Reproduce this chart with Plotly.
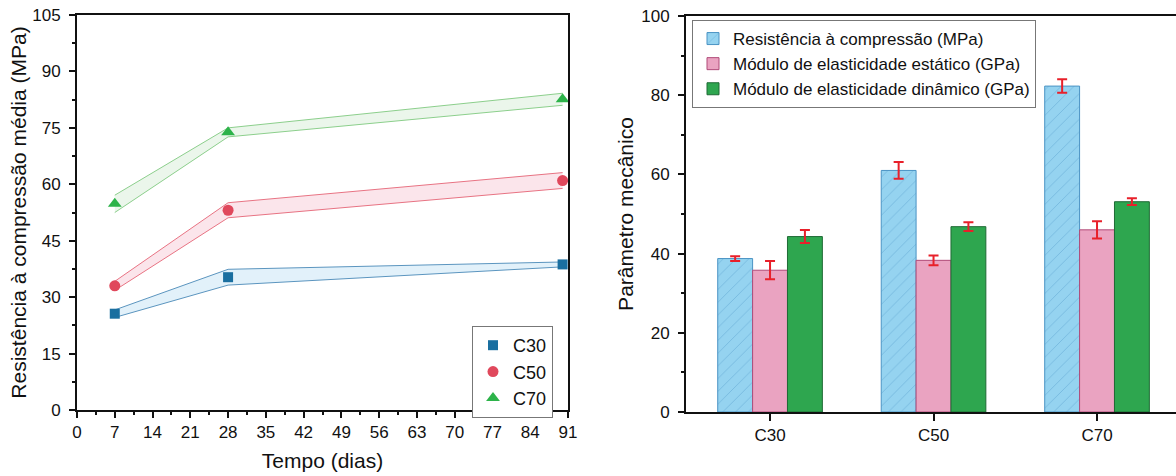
import plotly.graph_objects as go

# ---------------- Left chart data ----------------
days = [7, 28, 90]
c30_mean = [25.6, 35.3, 38.7]
c30_sd = [1.0, 2.1, 0.65]
c50_mean = [33.0, 53.1, 61.0]
c50_sd = [1.2, 2.0, 2.1]
c70_mean = [54.8, 73.8, 82.6]
c70_sd = [2.3, 1.2, 1.6]
x_ticks = [0, 7, 14, 21, 28, 35, 42, 49, 56, 63, 70, 77, 84, 91]
y_ticks_left = [0, 15, 30, 45, 60, 75, 90, 105]

# ---------------- Right chart data ----------------
classes = ["C30", "C50", "C70"]
compressao = [38.75, 61.0, 82.3]
compressao_err = [0.6, 2.1, 1.7]
mod_estatico = [35.8, 38.3, 46.0]
mod_estatico_err = [2.3, 1.25, 2.2]
mod_dinamico = [44.3, 46.8, 53.1]
mod_dinamico_err = [1.65, 1.1, 0.85]
y_ticks_right = [0, 20, 40, 60, 80, 100]

FONT = "Arial, 'Liberation Sans', sans-serif"
W, H = 1176, 476

fig = go.Figure()

series = [
    ("C30", c30_mean, c30_sd, "#1a6fa0", "#5b95bf", "rgba(190,225,245,0.45)", "square", 10),
    ("C50", c50_mean, c50_sd, "#e0485c", "#e87383", "rgba(245,190,205,0.40)", "circle", 11),
    ("C70", c70_mean, c70_sd, "#2db34a", "#8ccf8c", "rgba(205,232,205,0.40)", "triangle-up", 12),
]

# bands
for name, m, sd, mc, lc, fc, sym, sz in series:
    lower = [a - b for a, b in zip(m, sd)]
    upper = [a + b for a, b in zip(m, sd)]
    fig.add_trace(go.Scatter(x=days, y=lower, mode="lines", line=dict(color=lc, width=1),
                             showlegend=False, hoverinfo="skip", xaxis="x", yaxis="y"))
    fig.add_trace(go.Scatter(x=days, y=upper, mode="lines", line=dict(color=lc, width=1),
                             fill="tonexty", fillcolor=fc,
                             showlegend=False, hoverinfo="skip", xaxis="x", yaxis="y"))
# markers
for name, m, sd, mc, lc, fc, sym, sz in series:
    fig.add_trace(go.Scatter(x=days, y=m, mode="markers", name=name,
                             marker=dict(symbol=sym, size=sz, color=mc, line=dict(width=0)),
                             xaxis="x", yaxis="y", legend="legend"))

# bars
fig.add_trace(go.Bar(x=classes, y=compressao, name="Resistência à compressão (MPa)",
                     marker=dict(color="#95d3f0", line=dict(color="#4a93c4", width=1),
                                 pattern=dict(shape="/", fgcolor="#4a93c4", bgcolor="#95d3f0",
                                              size=9, solidity=0.08)),
                     error_y=dict(type="data", array=compressao_err, color="#e8202a",
                                  thickness=2, width=5),
                     xaxis="x2", yaxis="y2", legend="legend2"))
fig.add_trace(go.Bar(x=classes, y=mod_estatico, name="Módulo de elasticidade estático (GPa)",
                     marker=dict(color="#eaa3c1", line=dict(color="#b04a78", width=1)),
                     error_y=dict(type="data", array=mod_estatico_err, color="#e8202a",
                                  thickness=2, width=5),
                     xaxis="x2", yaxis="y2", legend="legend2"))
fig.add_trace(go.Bar(x=classes, y=mod_dinamico, name="Módulo de elasticidade dinâmico (GPa)",
                     marker=dict(color="#2ea64f", line=dict(color="#1f6a35", width=1)),
                     error_y=dict(type="data", array=mod_dinamico_err, color="#e8202a",
                                  thickness=2, width=5),
                     xaxis="x2", yaxis="y2", legend="legend2"))

axis_common = dict(showline=True, linecolor="#111", linewidth=1.8, ticks="outside",
                   tickcolor="#111", tickwidth=1.5, showgrid=False, zeroline=False,
                   automargin=False,
                   tickfont=dict(family=FONT, size=17, color="#111"))

fig.update_layout(
    width=W, height=H,
    margin=dict(l=0, r=0, t=0, b=0),
    paper_bgcolor="white", plot_bgcolor="white",
    font=dict(family=FONT, color="#111"),
    barmode="group", bargap=0.36, bargroupgap=0,
    xaxis=dict(domain=[77 / W, 568 / W], range=[0, 91], tickvals=x_ticks, ticklen=6,
               mirror=True, anchor="y",
               minor=dict(dtick=3.5, ticklen=3, ticks="outside", tickcolor="#111"),
               title=dict(text="Tempo (dias)", font=dict(family=FONT, size=21), standoff=12),
               **axis_common),
    yaxis=dict(domain=[(H - 410) / H, (H - 15) / H], range=[0, 105], tickvals=y_ticks_left,
               ticklen=6, mirror=True, anchor="x", ticklabelstandoff=5,
               minor=dict(dtick=7.5, ticklen=3, ticks="outside", tickcolor="#111"),
               title=dict(text="Resistência à compressão média (MPa)",
                          font=dict(family=FONT, size=21), standoff=0),
               **axis_common),
    xaxis2=dict(domain=[686 / W, 1.0], range=[-0.514, 2.483], type="category",
                ticklen=7, mirror=True, anchor="y2",
                **axis_common),
    yaxis2=dict(domain=[(H - 412) / H, (H - 16) / H], range=[0, 100], tickvals=y_ticks_right,
                ticklen=6, anchor="x2", ticklabelstandoff=5,
                minor=dict(dtick=10, ticklen=3, ticks="outside", tickcolor="#111"),
                title=dict(text="Parâmetro mecânico", font=dict(family=FONT, size=21),
                           standoff=2),
                **axis_common),
    legend=dict(x=472 / W, y=(H - 326) / H, xanchor="left", yanchor="top",
                bgcolor="white", bordercolor="#777", borderwidth=1, traceorder="normal",
                font=dict(family=FONT, size=18, color="#111"), tracegroupgap=0),
    legend2=dict(x=692 / W, y=(H - 20) / H, xanchor="left", yanchor="top",
                 bgcolor="white", bordercolor="#777", borderwidth=1, traceorder="normal",
                 font=dict(family=FONT, size=17, color="#111"), tracegroupgap=0),
)

fig.write_html("out.html", config={"displayModeBar": False},
               post_script="document.body.style.margin='0';")
